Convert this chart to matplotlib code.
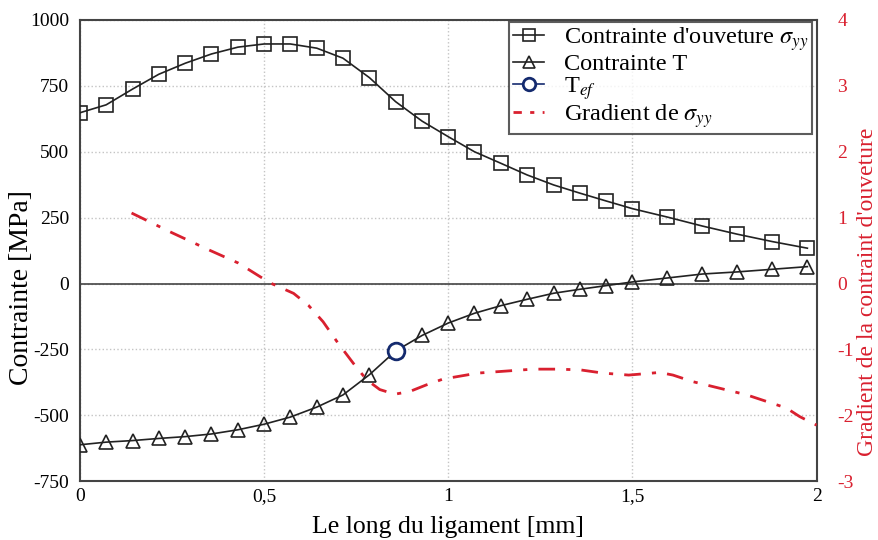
import matplotlib
matplotlib.use("Agg")
import matplotlib.pyplot as plt
from matplotlib.lines import Line2D

plt.rcParams['font.family'] = ['Liberation Serif', 'DejaVu Serif']
plt.rcParams['mathtext.fontset'] = 'stix'
plt.rcParams['axes.unicode_minus'] = False

# positions along the ligament [mm]
x_pts = [0, 0.071, 0.143, 0.214, 0.286, 0.357, 0.429, 0.5, 0.571, 0.643,
         0.714, 0.786, 0.857, 0.929, 1.0, 1.071, 1.143, 1.214, 1.286, 1.357,
         1.429, 1.5, 1.595, 1.69, 1.785, 1.88, 1.975]

# opening stress sigma_yy [MPa]
sigma_yy = [648, 678, 738, 794, 836, 871, 897, 909, 909, 893,
            855, 781, 690, 616, 557, 500, 456, 412, 374, 343,
            313, 284, 252, 218, 187, 159, 134]

# T stress [MPa]
t_stress = [-612, -602, -596, -588, -581, -571, -555, -534, -507, -469,
            -423, -346, -256, -197, -150, -113, -84, -60, -37, -22,
            -8, 6, 21, 36, 44, 54, 64]

# effective T
t_ef_x = [0.857]
t_ef_y = [-256]

# gradient of sigma_yy (right axis)
grad_x = [0.14, 0.25, 0.35, 0.43, 0.49, 0.52, 0.58, 0.62, 0.66, 0.70,
          0.742, 0.778, 0.814, 0.855, 0.895, 0.94, 0.986, 1.08, 1.23, 1.29,
          1.357, 1.42, 1.49, 1.574, 1.61, 1.664, 1.737, 1.81, 1.864, 1.918,
          1.954, 2.0]
grad_y = [1.07, 0.77, 0.51, 0.31, 0.10, 0.0, -0.15, -0.33, -0.58, -0.90,
          -1.21, -1.46, -1.61, -1.68, -1.64, -1.54, -1.45, -1.36, -1.30, -1.30,
          -1.31, -1.36, -1.39, -1.35, -1.39, -1.49, -1.59, -1.69, -1.79, -1.89,
          -2.02, -2.15]

red = '#d9202f'

fig = plt.figure(figsize=(8.79, 5.4), dpi=100)
ax = fig.add_axes([0.091, 0.109, 0.838, 0.854])

ax.plot(x_pts, sigma_yy, color='#222222', lw=1.2, marker='s', markersize=10.5,
        markerfacecolor='none', markeredgecolor='#222222', markeredgewidth=1.2, zorder=3)
ax.plot(x_pts, t_stress, color='#222222', lw=1.2, marker='^', markersize=10.5,
        markerfacecolor='none', markeredgecolor='#222222', markeredgewidth=1.2, zorder=3)
ax.plot(t_ef_x, t_ef_y, linestyle='none', marker='o', markersize=12,
        markerfacecolor='white', markeredgecolor='#142a6e', markeredgewidth=2, zorder=4)

ax.axhline(0, color='#444444', lw=1.2, zorder=2)

ax.set_xlim(0, 2)
ax.set_ylim(-750, 1000)
ax.set_xticks([0, 0.5, 1, 1.5, 2])
ax.set_xticklabels(['0', '0,5', '1', '1,5', '2'])
ax.set_yticks([-750, -500, -250, 0, 250, 500, 750, 1000])
ax.tick_params(length=0, labelsize=14, pad=8)
ax.tick_params(axis='x', pad=5)
ax.grid(True, color='#c4c4c4', linestyle=':', linewidth=1)
ax.set_axisbelow(True)
for s in ax.spines.values():
    s.set_color('#444444')
    s.set_linewidth(1.5)

ax.set_xlabel('Le long du ligament [mm]', fontsize=18.5)
ax.xaxis.set_label_coords(0.5, -0.075)
ax.set_ylabel('Contrainte [MPa]', fontsize=20)
ax.yaxis.set_label_coords(-0.062, 0.42)

ax2 = ax.twinx()
ax2.plot(grad_x, grad_y, color=red, lw=2, linestyle=(0, (6, 4, 1.5, 4)), zorder=3)
ax2.set_ylim(-3, 4)
ax2.set_yticks([-3, -2, -1, 0, 1, 2, 3, 4])
ax2.tick_params(length=0, labelsize=14, labelcolor=red, pad=15)
ax2.set_ylabel("Gradient de la contraint d'ouveture", fontsize=17, color=red)
ax2.yaxis.set_label_coords(1.055, 0.41)
for s in ax2.spines.values():
    s.set_visible(False)

handles = [
    Line2D([], [], color='#222222', lw=1.2, marker='s', markersize=9,
           markerfacecolor='none', markeredgewidth=1.2),
    Line2D([], [], color='#222222', lw=1.2, marker='^', markersize=9,
           markerfacecolor='none', markeredgewidth=1.2),
    Line2D([], [], color='#142a6e', lw=1.2, marker='o', markersize=9,
           markerfacecolor='white', markeredgewidth=2),
    Line2D([], [], color=red, lw=2, linestyle=(0, (3, 3, 1.5, 3))),
]
labels = [r"Contrainte d'ouveture $\sigma_{yy}$", 'Contrainte T',
          r'T$_{ef}$', r'Gradient de $\sigma_{yy}$']
leg = ax2.legend(handles, labels, loc='upper right', bbox_to_anchor=(0.994, 0.996),
                 fontsize=17.5, frameon=True, fancybox=False, handlelength=1.3,
                 handletextpad=0.8, borderpad=0.15, labelspacing=0.0, borderaxespad=0)
leg.get_frame().set_edgecolor('#333333')
leg.get_frame().set_linewidth(1.5)

fig.savefig('out.png', dpi=100, facecolor='white')
